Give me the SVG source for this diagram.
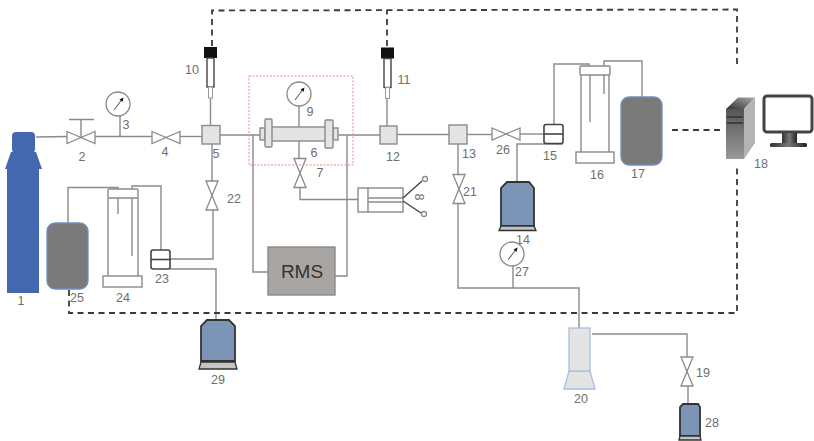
<svg xmlns="http://www.w3.org/2000/svg" width="814" height="441" viewBox="0 0 814 441">
<style>
text{font-family:"Liberation Sans",Arial,sans-serif;font-size:12.5px;fill:#6e6e6e;text-anchor:middle}
.pipe{fill:none;stroke:#8a8a8a;stroke-width:1.4}
.sig{fill:none;stroke:#3a3a3a;stroke-width:1.8;stroke-dasharray:6 4.5}
.line{fill:#fff;stroke:#8a8a8a;stroke-width:1.3}
.box{fill:#e4e4e4;stroke:#8a8a8a;stroke-width:1.4}
.tank{fill:#7a7a7a;stroke:#6f8fc0;stroke-width:1.3}
.bottle{fill:#7c94b6;stroke:#333;stroke-width:1.8}
.base{fill:#c4c4c4;stroke:#333;stroke-width:1.3}
.col{fill:none;stroke:#8a8a8a;stroke-width:1.4}
.cap{fill:#fff;stroke:#8a8a8a;stroke-width:1.4}
.sq{fill:#fff;stroke:#444;stroke-width:1.6}
</style>
<defs>
<g id="vh"><path class="line" d="M-14,-6 L0,0 L-14,6 Z M14,-6 L0,0 L14,6 Z"/></g>
<g id="vv"><path class="line" d="M-6,-14.500 L6,-14.500 L0,0 Z M-6,14.500 L6,14.500 L0,0 Z"/></g>
<g id="gauge"><circle r="12" fill="#fff" stroke="#8a8a8a" stroke-width="1.3"/><path d="M-4,6 L3.500,-4" stroke="#666" stroke-width="1.1"/><path d="M1.500,-4.500 L5.500,-6.500 L4.500,-2 Z" fill="#111"/></g>
<g id="probe"><rect x="-6.500" y="0" width="13" height="11" fill="#111"/><rect x="-3.500" y="11" width="7" height="29" fill="#fff" stroke="#444" stroke-width="1.4"/><rect x="-2" y="40" width="4" height="11" fill="#fff" stroke="#999" stroke-width="1"/></g>
<g id="sense"><rect class="sq" x="0" y="0" width="19" height="19" rx="2"/><path d="M0,9.500 H19" stroke="#444" stroke-width="1.6"/></g>
<linearGradient id="srvTop" x1="0" y1="1" x2="1" y2="0"><stop offset="0" stop-color="#333"/><stop offset="1" stop-color="#aaa"/></linearGradient>
<linearGradient id="srvFront" x1="0" y1="0" x2="0" y2="1"><stop offset="0" stop-color="#555"/><stop offset="1" stop-color="#999"/></linearGradient>
<linearGradient id="stand" x1="0" y1="0" x2="1" y2="0"><stop offset="0" stop-color="#333"/><stop offset=".5" stop-color="#777"/><stop offset="1" stop-color="#222"/></linearGradient>
</defs>

<g id="connectors">
<path class="pipe" d="M36,137 L67,136.500"/>
<path class="pipe" d="M95,136.500 H152"/>
<path class="pipe" d="M120,115 V136"/>
<path class="pipe" d="M180,136.500 H202"/>
<path class="pipe" d="M210.500,98 V125"/>
<path class="pipe" d="M212,144 V181"/>
<path class="pipe" d="M213,210 V259 H170"/>
<path class="pipe" d="M161,250 V186 H132 V189"/>
<path class="pipe" d="M118,190 V187.500 H68 V223"/>
<path class="pipe" d="M170,269 H216 V320"/>
<path class="pipe" d="M220,135 H260"/>
<path class="pipe" d="M338,135 H380"/>
<path class="pipe" d="M387,97 V126"/>
<path class="pipe" d="M397,134.500 H449"/>
<path class="pipe" d="M467,134.500 H492"/>
<path class="pipe" d="M520,134 H544"/>
<path class="pipe" d="M554,124 V64 H589 V66"/>
<path class="pipe" d="M604,66 V61 H642 V98"/>
<path class="pipe" d="M563,144 H517 V182"/>
<path class="pipe" d="M299,106 V127"/>
<path class="pipe" d="M299,141 V159"/>
<path class="pipe" d="M300,187 V199.500 H358"/>
<path class="pipe" d="M253,135 V272 H268"/>
<path class="pipe" d="M347,135 V276 H335"/>
<path class="pipe" d="M458,144 V175"/>
<path class="pipe" d="M458,203 V288 H579 V328"/>
<path class="pipe" d="M513,266 V288"/>
<path class="pipe" d="M592,334 H687 V357"/>
<path class="pipe" d="M688,386 V404"/>
<path class="sig" d="M212,46 V10.500 L737,9.500 V68"/>
<path class="sig" d="M387,46 V10"/>
<path class="sig" d="M672,130 H722"/>
<path class="sig" d="M69,290 V313 H737 V167"/>
</g>

<g id="node-1"><path d="M7,168 H39 V293 H7 Z" fill="#4468b0"/><path d="M11,152 H36 L42,169 H5 Z" fill="#4468b0"/><rect x="12" y="132" width="23" height="21" rx="4" fill="#4468b0"/><text x="21" y="305">1</text></g>
<g id="node-2"><use href="#vh" x="81" y="137.500"/><path class="pipe" d="M81,137 V119.500 M69,119.500 H94"/><text x="82" y="161">2</text></g>
<g id="node-3"><use href="#gauge" x="118" y="104"/><text x="126" y="129">3</text></g>
<g id="node-4"><use href="#vh" x="166" y="137.500"/><text x="165" y="156">4</text></g>
<g id="node-5"><rect class="box" x="202" y="125.500" width="18" height="18.500"/><text x="216" y="158">5</text></g>
<g id="node-6"><rect class="box" x="270" y="127" width="56" height="14"/><rect class="box" x="260" y="128" width="5" height="12"/><rect class="box" x="333" y="128" width="5" height="12"/><rect class="box" x="265" y="119" width="7" height="28" rx="1"/><rect class="box" x="325" y="120" width="8" height="28" rx="1"/><text x="314" y="157">6</text></g>
<g id="node-7"><use href="#vv" x="300" y="173"/><text x="320" y="177">7</text></g>
<g id="node-8"><rect class="cap" x="358" y="188" width="45" height="24"/><path class="pipe" d="M368,188 V212 M368,198 H403 M368,202 H403"/><path d="M403,198 L422,181 M403,201 L421,213" stroke="#444" stroke-width="1.4"/><circle class="line" cx="425" cy="179" r="2.500"/><circle class="line" cx="424" cy="214" r="2.500"/><text transform="translate(419,197) rotate(90)" y="4.500">8</text></g>
<g id="node-9"><use href="#gauge" x="299" y="94"/><text x="310" y="116">9</text></g>
<g id="node-10"><use href="#probe" x="210.500" y="47"/><text x="192" y="74">10</text></g>
<g id="node-11"><use href="#probe" x="387.500" y="47.500"/><text x="404" y="84">11</text></g>
<g id="node-12"><rect class="box" x="380" y="126" width="17" height="18"/><text x="393" y="161">12</text></g>
<g id="node-13"><rect class="box" x="449" y="125" width="18" height="19"/><text x="469" y="158">13</text></g>
<g id="node-14"><path class="bottle" d="M507,182 H529 L534,188 V226 H501 V188 Z"/><path class="base" d="M501,226 H534 L536,230.500 H499 Z"/><text x="523" y="244">14</text></g>
<g id="node-15"><use href="#sense" x="544" y="124.500"/><text x="550" y="160">15</text></g>
<g id="node-16"><path class="col" d="M581,75 V152 M609,75 V152 M590,75 V122 M604,75 V94"/><rect class="cap" x="580" y="66" width="30" height="9" rx="1"/><rect class="cap" x="576" y="152" width="38" height="11"/><text x="597" y="179">16</text></g>
<g id="node-17"><rect class="tank" x="621" y="97" width="41" height="68" rx="8"/><text x="638" y="178">17</text></g>
<g id="node-18">
<path d="M726,109 L738,97.500 H755 L744,109 Z" fill="url(#srvTop)"/>
<rect x="726" y="109" width="18" height="50" fill="url(#srvFront)"/>
<path d="M744,109 L755,97.500 V143 L744,159 Z" fill="#b4b4b4"/>
<path d="M727,117 H743 M727,123 H743" stroke="#333" stroke-width="1.500"/>
<rect x="764" y="96" width="48" height="36" rx="3" fill="#fff" stroke="#444" stroke-width="3"/>
<rect x="782" y="133" width="15" height="10" fill="url(#stand)"/>
<rect x="770" y="143" width="37" height="4" rx="1.500" fill="url(#stand)"/>
<text x="761" y="168">18</text></g>
<g id="node-19"><use href="#vv" x="687" y="371.500"/><text x="703" y="377">19</text></g>
<g id="node-20"><path d="M569,371 H590 L595,389 H564 Z" fill="#e4e4e4" stroke="#a8bfe4" stroke-width="1.300"/><rect x="569" y="328" width="21" height="43" fill="#e4e4e4" stroke="#a8bfe4" stroke-width="1.300"/><text x="581" y="403">20</text></g>
<g id="node-21"><use href="#vv" x="459" y="189"/><text x="470" y="196">21</text></g>
<g id="node-22"><use href="#vv" x="212" y="195.500"/><text x="234" y="203">22</text></g>
<g id="node-23"><use href="#sense" x="151" y="250"/><text x="162" y="283">23</text></g>
<g id="node-24"><path class="col" d="M108,198 V276 M138,198 V276 M118,198 V214 M132,198 V256"/><rect class="cap" x="108" y="189" width="30" height="9" rx="1"/><rect class="cap" x="103" y="276" width="39" height="11"/><text x="123" y="302">24</text></g>
<g id="node-25"><rect class="tank" x="47" y="223" width="41" height="66" rx="8"/><text x="77" y="302">25</text></g>
<g id="node-26"><use href="#vh" x="506" y="134"/><text x="503" y="154">26</text></g>
<g id="node-27"><use href="#gauge" x="512" y="254"/><text x="522" y="276">27</text></g>
<g id="node-28"><path class="bottle" d="M683,404 H698 L700,407 V436 H680 V407 Z"/><path class="base" d="M680,436 H700 L701,440 H679 Z"/><text x="712" y="427">28</text></g>
<g id="node-29"><path class="bottle" d="M207,320 H229 L235,326 V361 H201 V326 Z"/><path class="base" d="M201,362 H235 L237,369 H199 Z"/><text x="218" y="384">29</text></g>
<g id="node-RMS"><rect x="268" y="247" width="67" height="48" fill="#a9a5a2" stroke="#8a8a8a" stroke-width="1.400"/><text x="302" y="278" style="font-size:19px;fill:#333">RMS</text></g>
<g id="reaction-zone"><rect x="249" y="76" width="104" height="89" fill="none" stroke="#ef8a8a" stroke-width="1" stroke-dasharray="2 1.500"/></g>
</svg>
